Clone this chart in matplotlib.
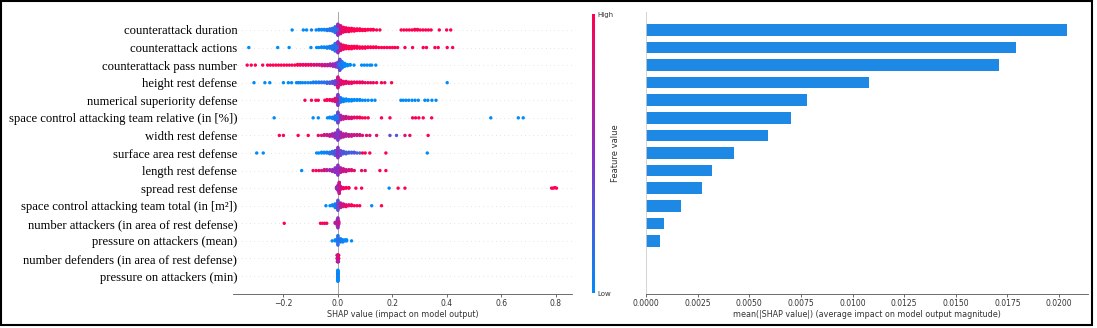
import numpy as np
import matplotlib
matplotlib.use("Agg")
import matplotlib.pyplot as plt
from matplotlib.colors import LinearSegmentedColormap
from matplotlib.patches import Rectangle

# feature names, top to bottom
features = [
    "counterattack duration",
    "counterattack actions",
    "counterattack pass number",
    "height rest defense",
    "numerical superiority defense",
    "space control attacking team relative (in [%])",
    "width rest defense",
    "surface area rest defense",
    "length rest defense",
    "spread rest defense",
    "space control attacking team total (in [m²])",
    "number attackers (in area of rest defense)",
    "pressure on attackers (mean)",
    "number defenders (in area of rest defense)",
    "pressure on attackers (min)",
]

# mean(|SHAP value|) per feature (right panel)
mean_abs = [0.0204, 0.0179, 0.0171, 0.0108, 0.0078, 0.0070, 0.0059,
            0.00425, 0.0032, 0.00273, 0.00168, 0.00086, 0.00068, 0.0, 0.0]

# beeswarm points: (shap value, number of points, feature value 0=low 1=high)
duration = [(-0.168, 1, 0), (-0.127, 1, 0), (-0.115, 1, 0), (-0.097, 1, 0.05),
            (-0.08, 1, 0), (-0.07, 2, 0.05), (-0.06, 2, 0), (-0.05, 2, 0.05),
            (-0.04, 3, 0.1), (-0.03, 4, 0.1), (-0.02, 6, 0.15), (-0.01, 12, 0.15),
            (0.0, 12, 0.2), (0.0, 10, 0.5), (0.01, 16, 0.85), (0.02, 10, 0.9),
            (0.03, 8, 0.95), (0.04, 7, 1), (0.05, 6, 1), (0.06, 5, 1), (0.07, 4, 1),
            (0.08, 4, 1), (0.09, 3, 1), (0.10, 3, 1), (0.11, 2, 1), (0.12, 2, 1),
            (0.13, 2, 1), (0.142, 1, 1), (0.154, 1, 1), (0.232, 1, 1), (0.242, 1, 1),
            (0.252, 1, 1), (0.262, 1, 1), (0.272, 1, 1), (0.282, 2, 1), (0.292, 2, 1),
            (0.302, 1, 1), (0.312, 1, 1), (0.322, 1, 1), (0.332, 1, 1), (0.342, 1, 1),
            (0.372, 1, 1), (0.399, 1, 1), (0.414, 1, 1)]
actions = [(-0.327, 1, 0), (-0.221, 1, 0), (-0.179, 1, 0), (-0.099, 1, 0),
           (-0.078, 1, 0), (-0.07, 1, 0), (-0.06, 2, 0), (-0.05, 2, 0.05),
           (-0.04, 3, 0.05), (-0.03, 4, 0.1), (-0.02, 7, 0.1), (-0.01, 14, 0.15),
           (0.0, 12, 0.15), (0.0, 8, 0.5), (0.01, 12, 0.85), (0.02, 8, 0.9),
           (0.03, 6, 1), (0.04, 5, 1), (0.05, 5, 1), (0.06, 4, 1), (0.07, 4, 1),
           (0.08, 3, 1), (0.09, 3, 1), (0.10, 3, 1), (0.11, 2, 1), (0.12, 2, 1),
           (0.13, 2, 1), (0.14, 2, 1), (0.15, 1, 1), (0.16, 1, 1), (0.17, 1, 1),
           (0.18, 1, 1), (0.19, 1, 1), (0.20, 1, 1), (0.209, 1, 1), (0.219, 1, 1),
           (0.246, 1, 1), (0.274, 1, 1), (0.313, 1, 1), (0.325, 1, 1),
           (0.356, 1, 1), (0.368, 1, 1), (0.401, 1, 1), (0.421, 1, 1)]
pass_number = [(-0.333, 1, 1), (-0.318, 1, 1), (-0.303, 1, 1), (-0.276, 1, 1),
               (-0.258, 1, 1), (-0.248, 1, 1), (-0.238, 1, 1), (-0.228, 1, 1),
               (-0.218, 1, 1), (-0.208, 1, 1), (-0.198, 1, 1), (-0.188, 1, 1),
               (-0.178, 1, 0.95), (-0.168, 1, 1), (-0.158, 1, 0.95), (-0.148, 2, 1),
               (-0.138, 2, 0.95), (-0.128, 2, 0.9), (-0.118, 2, 0.95), (-0.108, 2, 0.9),
               (-0.098, 2, 0.9), (-0.088, 2, 0.85), (-0.078, 2, 0.85), (-0.068, 2, 0.8),
               (-0.058, 3, 0.8), (-0.048, 3, 0.75), (-0.038, 3, 0.7), (-0.028, 4, 0.65),
               (-0.018, 5, 0.6), (-0.008, 7, 0.5), (0.0, 10, 0.35), (0.007, 12, 0.1),
               (0.007, 8, 0.35), (0.015, 12, 0.1), (0.025, 6, 0), (0.035, 3, 0),
               (0.045, 2, 0), (0.059, 1, 0), (0.087, 1, 0), (0.097, 1, 0), (0.107, 1, 0),
               (0.117, 1, 0), (0.124, 1, 0), (0.139, 1, 0)]
height = [(-0.308, 1, 0), (-0.268, 1, 0), (-0.25, 1, 0), (-0.2, 1, 0),
          (-0.182, 1, 0), (-0.17, 1, 0), (-0.152, 1, 0), (-0.145, 1, 0.1),
          (-0.138, 1, 0), (-0.13, 1, 0), (-0.12, 1, 0.05), (-0.11, 1, 0),
          (-0.10, 1, 0.1), (-0.09, 2, 0.05), (-0.08, 2, 0.1), (-0.07, 2, 0.1),
          (-0.06, 2, 0.15), (-0.05, 2, 0.15), (-0.04, 3, 0.2), (-0.03, 3, 0.25),
          (-0.02, 4, 0.3), (-0.01, 7, 0.4), (0.0, 10, 0.55), (0.0, 8, 0.8),
          (0.01, 8, 0.85), (0.02, 5, 0.9), (0.03, 4, 0.9), (0.04, 3, 0.9),
          (0.05, 3, 0.95), (0.06, 2, 0.9), (0.07, 2, 0.9), (0.08, 2, 0.95),
          (0.09, 2, 0.9), (0.10, 1, 0.9), (0.11, 1, 0.95), (0.12, 1, 0.9),
          (0.13, 1, 0.9), (0.142, 1, 1), (0.16, 1, 1), (0.172, 1, 0.9),
          (0.197, 1, 1), (0.401, 1, 0)]
superiority = [(-0.121, 1, 1), (-0.097, 1, 1), (-0.081, 1, 1), (-0.072, 1, 1),
               (-0.048, 1, 1), (-0.04, 2, 1), (-0.03, 2, 0.95), (-0.02, 3, 0.9),
               (-0.01, 6, 0.85), (0.0, 10, 0.75), (0.0, 8, 0.45), (0.01, 8, 0.1),
               (0.02, 5, 0.05), (0.03, 4, 0), (0.04, 3, 0), (0.05, 3, 0),
               (0.06, 2, 0), (0.07, 2, 0), (0.08, 2, 0), (0.09, 1, 0), (0.10, 1, 0),
               (0.111, 1, 0), (0.124, 1, 0), (0.136, 1, 0), (0.231, 1, 0),
               (0.24, 1, 0), (0.25, 1, 0), (0.26, 1, 0), (0.272, 1, 0),
               (0.283, 1, 0), (0.295, 1, 0), (0.319, 1, 0), (0.33, 1, 0),
               (0.345, 1, 0), (0.36, 1, 0)]
space_rel = [(-0.234, 1, 0), (-0.091, 1, 0), (-0.072, 1, 0), (-0.038, 1, 0),
             (-0.03, 2, 0), (-0.02, 3, 0.05), (-0.01, 7, 0.1), (0.0, 12, 0.1),
             (0.0, 6, 0.4), (0.01, 8, 0.6), (0.02, 5, 0.7), (0.03, 4, 0.8),
             (0.04, 3, 0.8), (0.05, 3, 0.85), (0.06, 2, 0.9), (0.07, 2, 0.9),
             (0.08, 2, 1), (0.09, 1, 1), (0.10, 1, 1), (0.111, 1, 1), (0.16, 1, 1),
             (0.191, 1, 1), (0.274, 1, 1), (0.285, 1, 1), (0.297, 1, 1),
             (0.313, 1, 1), (0.344, 1, 1), (0.561, 1, 0), (0.662, 1, 0), (0.68, 1, 0)]
width = [(-0.215, 1, 1), (-0.2, 1, 1), (-0.146, 1, 1), (-0.109, 1, 1),
         (-0.072, 1, 0.9), (-0.06, 1, 0.8), (-0.05, 2, 0.85), (-0.04, 2, 0.7),
         (-0.03, 3, 0.75), (-0.02, 4, 0.6), (-0.01, 7, 0.55), (0.0, 14, 0.45),
         (0.01, 8, 0.6), (0.02, 5, 0.7), (0.03, 4, 0.65), (0.04, 3, 0.75),
         (0.05, 3, 0.7), (0.06, 2, 0.8), (0.07, 2, 0.75), (0.08, 2, 0.8),
         (0.09, 1, 0.85), (0.105, 1, 0.9), (0.117, 1, 0.8), (0.142, 1, 0.9),
         (0.191, 1, 0.35), (0.215, 1, 0.3), (0.246, 1, 0.8), (0.264, 1, 0.9),
         (0.331, 1, 1)]
surface = [(-0.298, 1, 0), (-0.274, 1, 0), (-0.078, 1, 0), (-0.07, 1, 0),
           (-0.06, 2, 0), (-0.05, 2, 0.05), (-0.04, 2, 0.1), (-0.03, 3, 0.1),
           (-0.02, 4, 0.2), (-0.01, 7, 0.3), (0.0, 14, 0.5), (0.01, 7, 0.35),
           (0.02, 4, 0.3), (0.03, 3, 0.25), (0.04, 2, 0.3), (0.05, 2, 0.2),
           (0.06, 2, 0.3), (0.07, 1, 0.3), (0.08, 1, 0.2), (0.09, 1, 1),
           (0.10, 1, 1), (0.117, 1, 1), (0.176, 1, 1), (0.328, 1, 0)]
length = [(-0.133, 1, 0), (-0.091, 1, 0.9), (-0.08, 1, 1), (-0.07, 1, 0.9),
          (-0.06, 1, 0.8), (-0.05, 2, 0.85), (-0.041, 2, 0.7), (-0.03, 2, 0.6),
          (-0.02, 3, 0.6), (-0.01, 6, 0.5), (0.0, 12, 0.5), (0.01, 6, 0.7),
          (0.02, 4, 0.75), (0.03, 3, 0.8), (0.04, 2, 0.8), (0.05, 2, 0.85),
          (0.06, 1, 0.9), (0.087, 1, 0.9), (0.10, 1, 0.9), (0.154, 1, 1),
          (0.176, 1, 1)]
spread = [(-0.005, 4, 0.6), (0.0, 10, 0.55), (0.005, 12, 0.75), (0.01, 6, 0.85),
          (0.02, 3, 0.9), (0.03, 2, 1), (0.04, 2, 1), (0.066, 1, 1), (0.087, 1, 1),
          (0.188, 1, 0), (0.221, 1, 1), (0.246, 1, 1), (0.784, 1, 1),
          (0.79, 1, 1), (0.796, 1, 1), (0.802, 1, 1)]
space_total = [(-0.044, 1, 0), (-0.029, 1, 0), (-0.02, 2, 0), (-0.01, 5, 0.1),
               (0.0, 12, 0.35), (0.01, 6, 0.75), (0.02, 4, 0.8), (0.03, 3, 0.9),
               (0.04, 2, 0.9), (0.05, 2, 1), (0.06, 1, 1), (0.07, 1, 1),
               (0.08, 1, 1), (0.124, 1, 0), (0.16, 1, 1)]
attackers = [(-0.197, 1, 1), (-0.064, 1, 1), (-0.056, 1, 1), (-0.048, 1, 0.9),
             (-0.041, 1, 1), (-0.01, 2, 0.7), (-0.002, 8, 0.6), (0.0, 12, 0.55),
             (0.003, 4, 0.8)]
pressure_mean = [(-0.021, 1, 0), (-0.01, 2, 0), (0.0, 10, 0.15), (0.01, 4, 0.1),
                 (0.018, 3, 0.05), (0.026, 2, 0), (0.032, 2, 0), (0.05, 1, 0)]
defenders = [(-0.003, 2, 0.8), (-0.002, 3, 0.6), (-0.001, 3, 0.9), (0.0, 3, 0.7),
             (0.001, 3, 0.8), (0.002, 3, 0.6), (0.003, 2, 0.9)]
pressure_min = [(0.0, 16, 0.05), (0.0, 6, 0.0)]

swarm_data = [duration, actions, pass_number, height, superiority, space_rel,
              width, surface, length, spread, space_total, attackers,
              pressure_mean, defenders, pressure_min]

cmap = LinearSegmentedColormap.from_list("red_blue", ["#008BFA", "#8A2FC4", "#FF0052"])
bar_color = "#1E88E5"
tick_color = "#333333"


def swarm_offsets(vals, row_h=0.4, nbins=100):
    # shap-style layering of points that share a bin
    quant = np.round(nbins * (vals - vals.min()) / (vals.max() - vals.min() + 1e-8))
    order = np.argsort(quant, kind="stable")
    ys = np.zeros(len(vals))
    layer, last = 0, None
    for i in order:
        if quant[i] != last:
            layer = 0
        ys[i] = np.ceil(layer / 2) * ((layer % 2) * 2 - 1)
        layer += 1
        last = quant[i]
    return ys * 0.9 * (row_h / np.max(ys + 1))


n = len(features)
W, H = 1097, 328
fig = plt.figure(figsize=(W / 100, H / 100), dpi=100)

# ---- left: beeswarm
ax = fig.add_axes([233 / W, 1 - 293.6 / H, 339 / W, 281.2 / H])
for i, pts in enumerate(swarm_data):
    row = n - 1 - i
    v = np.repeat([p[0] for p in pts], [p[1] for p in pts]).astype(float)
    c = np.repeat([p[2] for p in pts], [p[1] for p in pts]).astype(float)
    ax.axhline(row, color="#cccccc", lw=0.5, dashes=(1, 5), zorder=-1)
    ax.scatter(v, row + swarm_offsets(v), c=c, cmap=cmap, vmin=0, vmax=1,
               s=6, linewidths=0, zorder=3)
ax.axvline(0, color="#999999", lw=0.6, zorder=-1)
ax.set_xlim(-0.385, 0.859)
ax.set_ylim(-1, n)
ax.set_yticks(range(n))
ax.set_yticklabels(features[::-1], family="Liberation Serif", fontsize=9.1, color="black")
ax.tick_params(axis="y", length=0, pad=-3)
ax.set_xticks([-0.2, 0.0, 0.2, 0.4, 0.6, 0.8])
ax.tick_params(axis="x", labelsize=5.5, colors=tick_color, length=2, width=0.5, pad=2)
ax.set_xlabel("SHAP value (impact on model output)", fontsize=5.8, color=tick_color, labelpad=1.5)
for s in ["top", "right", "left"]:
    ax.spines[s].set_visible(False)
ax.spines["bottom"].set_color("#555555")
ax.spines["bottom"].set_linewidth(0.6)

# colorbar
cax = fig.add_axes([592 / W, 1 - 293 / H, 3 / W, 279 / H])
sm = plt.cm.ScalarMappable(cmap=cmap, norm=plt.Normalize(0, 1))
cb = fig.colorbar(sm, cax=cax, ticks=[0, 1])
cb.set_ticklabels(["Low", "High"])
cb.outline.set_visible(False)
cax.tick_params(labelsize=5, length=0, pad=1.5, colors=tick_color)
fig.text(615 / W, 1 - 153 / H, "Feature value", rotation=90, ha="center", va="center",
         fontsize=6, color=tick_color)

# ---- right: mean |SHAP| bars
bx = fig.add_axes([646 / W, 1 - 293.6 / H, 442 / W, 281.2 / H])
bx.barh(np.arange(n)[::-1], mean_abs, height=0.66, color=bar_color, align="center")
bx.set_xlim(0, 0.0214)
bx.set_ylim(-1, n)
bx.set_yticks([])
bx.set_xticks(np.arange(0, 0.0201, 0.0025))
bx.set_xticklabels([f"{t:.4f}" for t in np.arange(0, 0.0201, 0.0025)])
bx.tick_params(axis="x", labelsize=5.5, colors=tick_color, length=2, width=0.5, pad=2)
bx.set_xlabel("mean(|SHAP value|) (average impact on model output magnitude)",
              fontsize=5.8, color=tick_color, labelpad=1.5)
for s in ["top", "right"]:
    bx.spines[s].set_visible(False)
bx.spines["left"].set_color("#cccccc")
bx.spines["left"].set_linewidth(0.6)
bx.spines["bottom"].set_color("#555555")
bx.spines["bottom"].set_linewidth(0.6)

# outer frame
fig.add_artist(Rectangle((1 / W, 1 - 325 / H), 1091 / W, 324 / H, transform=fig.transFigure,
                         fill=False, edgecolor="black", lw=1.5))

fig.savefig("out.png", dpi=100)
